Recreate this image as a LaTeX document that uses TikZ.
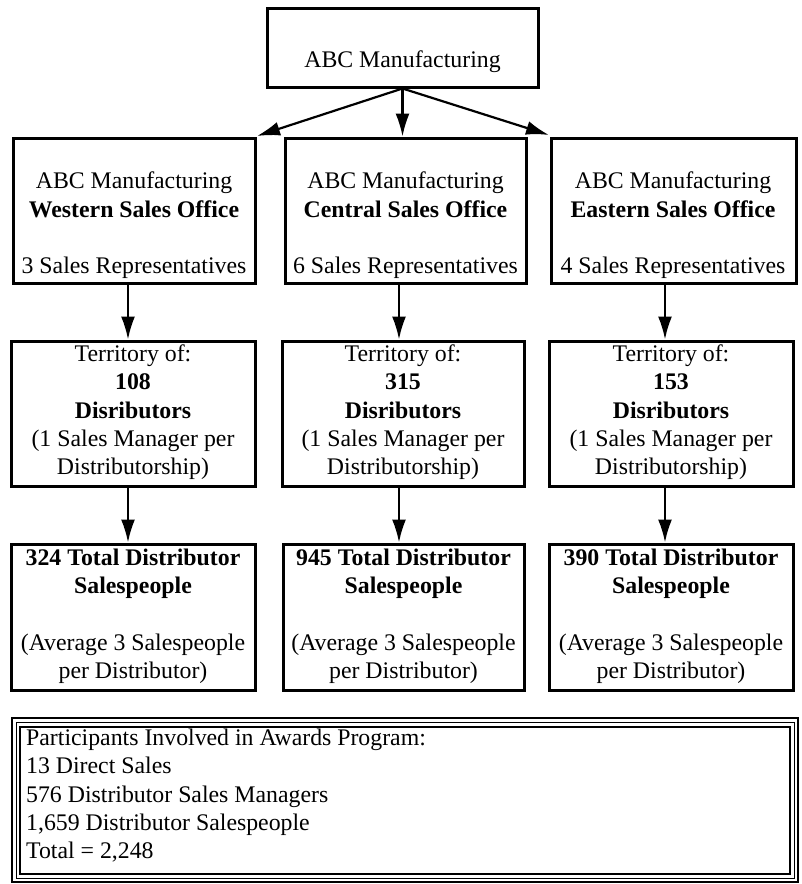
\documentclass[tikz,border=0pt]{standalone}
\usepackage{fontspec}
\setmainfont{Liberation Serif}
\usetikzlibrary{arrows.meta}
\begin{document}
\begin{tikzpicture}[x=1pt,y=-1pt,
  box/.style={draw, line width=3pt, inner sep=0pt},
  ln/.style={anchor=base, inner sep=0pt, font=\fontsize{23.8}{28}\selectfont},
  lnb/.style={ln, font=\fontsize{23.8}{28}\selectfont\bfseries},
  lnl/.style={ln, anchor=base west},
  arr/.style={line width=2.2pt, -{Latex[length=23pt,width=14pt]}}]
\useasboundingbox (0,0) rectangle (801,884);
\fill[white] (0,0) rectangle (801,884);

% top
\node[box, minimum width=271pt, minimum height=79pt] (top) at (402.5,47.5) {};
\node[ln] (topt) at (402.5,67) {ABC Manufacturing};

% row 1
\node[box, minimum width=242pt, minimum height=145pt] (w1) at (134,210.5) {};
\node[box, minimum width=241pt, minimum height=145pt] (w2) at (405.5,210.5) {};
\node[box, minimum width=245pt, minimum height=145pt] (w3) at (673.5,210.5) {};
\node[ln] (w1a) at (134,188) {ABC Manufacturing};
\node[lnb] (w1b) at (134,217) {Western Sales Office};
\node[ln] (w1c) at (134,273) {3 Sales Representatives};
\node[ln] (w2a) at (405.5,188) {ABC Manufacturing};
\node[lnb] (w2b) at (405.5,217) {Central Sales Office};
\node[ln] (w2c) at (405.5,273) {6 Sales Representatives};
\node[ln] (w3a) at (673,188) {ABC Manufacturing};
\node[lnb] (w3b) at (673,217) {Eastern Sales Office};
\node[ln] (w3c) at (673,273) {4 Sales Representatives};

% row 2
\node[box, minimum width=244pt, minimum height=145pt] (d1) at (133,413.5) {};
\node[box, minimum width=242pt, minimum height=145pt] (d2) at (403,413.5) {};
\node[box, minimum width=244pt, minimum height=145pt] (d3) at (671,413.5) {};
\node[ln] (d1a) at (133,361) {Territory of:};
\node[lnb] (d1b) at (133,389) {108};
\node[lnb] (d1c) at (133,418) {Disributors};
\node[ln] (d1d) at (133,446) {(1 Sales Manager per};
\node[ln] (d1e) at (133,474) {Distributorship)};
\node[ln] (d2a) at (403,361) {Territory of:};
\node[lnb] (d2b) at (403,389) {315};
\node[lnb] (d2c) at (403,418) {Disributors};
\node[ln] (d2d) at (403,446) {(1 Sales Manager per};
\node[ln] (d2e) at (403,474) {Distributorship)};
\node[ln] (d3a) at (671,361) {Territory of:};
\node[lnb] (d3b) at (671,389) {153};
\node[lnb] (d3c) at (671,418) {Disributors};
\node[ln] (d3d) at (671,446) {(1 Sales Manager per};
\node[ln] (d3e) at (671,474) {Distributorship)};

% row 3
\node[box, minimum width=244pt, minimum height=146pt] (s1) at (133,617) {};
\node[box, minimum width=241pt, minimum height=146pt] (s2) at (403.5,617) {};
\node[box, minimum width=244pt, minimum height=146pt] (s3) at (671,617) {};
\node[lnb] (s1a) at (133,565) {324 Total Distributor};
\node[lnb] (s1b) at (133,593) {Salespeople};
\node[ln] (s1c) at (133,650) {(Average 3 Salespeople};
\node[ln] (s1d) at (133,678) {per Distributor)};
\node[lnb] (s2a) at (403.5,565) {945 Total Distributor};
\node[lnb] (s2b) at (403.5,593) {Salespeople};
\node[ln] (s2c) at (403.5,650) {(Average 3 Salespeople};
\node[ln] (s2d) at (403.5,678) {per Distributor)};
\node[lnb] (s3a) at (671,565) {390 Total Distributor};
\node[lnb] (s3b) at (671,593) {Salespeople};
\node[ln] (s3c) at (671,650) {(Average 3 Salespeople};
\node[ln] (s3d) at (671,678) {per Distributor)};

% arrows
\coordinate (a1) at (128,0);
\coordinate (a2) at (399,0);
\coordinate (a3) at (665,0);
\coordinate (tl) at (257,136);
\coordinate (tr) at (549,135);
\draw[arr] (top.south) -- (tl);
\draw[arr] (top.south) -- (top.south |- w2.north);
\draw[arr] (top.south) -- (tr);
\draw[arr] (w1.south -| a1) -- (d1.north -| a1);
\draw[arr] (w2.south -| a2) -- (d2.north -| a2);
\draw[arr] (w3.south -| a3) -- (d3.north -| a3);
\draw[arr] (d1.south -| a1) -- (s1.north -| a1);
\draw[arr] (d2.south -| a2) -- (s2.north -| a2);
\draw[arr] (d3.south -| a3) -- (s3.north -| a3);

% summary box
\draw[line width=2.2pt] (12,718) rectangle (798,882);
\node[draw, line width=1pt, minimum width=778pt, minimum height=156pt, inner sep=0pt] (sum) at (405,800) {};
\draw[line width=2pt] (20,727) rectangle (790,874);
\node[lnl] (p1) at (26,745) {Participants Involved in Awards Program:};
\node[lnl] (p2) at (26,773) {13 Direct Sales};
\node[lnl] (p3) at (26,802) {576 Distributor Sales Managers};
\node[lnl] (p4) at (26,830) {1,659 Distributor Salespeople};
\node[lnl] (p5) at (26,858) {Total = 2,248};
\end{tikzpicture}
\end{document}
